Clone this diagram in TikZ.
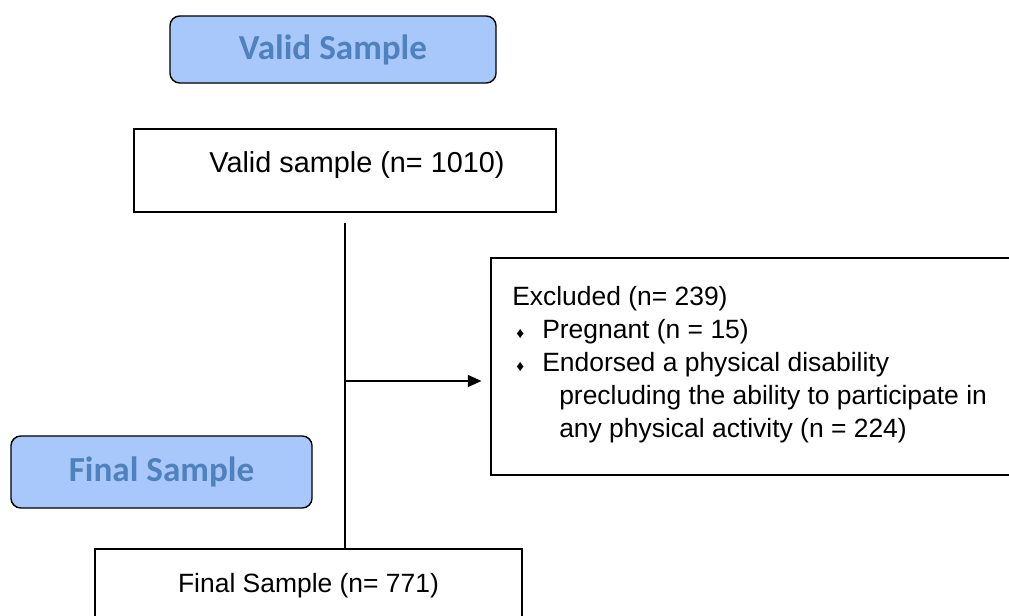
\documentclass[tikz,border=0pt]{standalone}
\usepackage{fontspec}
\setmainfont{Liberation Sans}
\newfontfamily\headfont{Carlito}
\usepackage{tikz}
\usetikzlibrary{arrows.meta,positioning}
\definecolor{headfill}{RGB}{168,199,250}
\definecolor{headtext}{RGB}{79,129,189}
\newcommand{\dbul}{\makebox[0.75cm][l]{\hspace{0.1cm}{\fontsize{11pt}{11pt}\selectfont ♦}}}
\newcommand{\dind}{\hspace*{1.175cm}}

\begin{document}
\begin{tikzpicture}[x=0.025cm, y=-0.025cm,
    headbox/.style={draw, line width=1pt, fill=headfill, rounded corners=7pt,
      text=headtext, font=\headfont\bfseries\fontsize{25pt}{28pt}\selectfont},
    samplebox/.style={draw, line width=1pt, font=\fontsize{18.8pt}{20pt}\selectfont}]
    \clip (0,0) rectangle (1009,616);
    \node[headbox, minimum width=8.15cm, minimum height=1.675cm] (vhead) at (333,49.5) {Valid Sample};
    \node[headbox, minimum width=7.525cm, minimum height=1.8cm] (fhead) at (161.5,472) {Final Sample};
    \node[samplebox, minimum width=10.55cm, minimum height=2.075cm,
      font=\fontsize{20.5pt}{22pt}\selectfont,
      text height=0.37cm, text depth=0.245cm] (valid) at (345,170.5) {\hspace*{0.6cm}Valid sample (n= 1010)};
    \node[samplebox, minimum width=10.675cm, minimum height=1.85cm] (final) at (308.5,586) {Final Sample (n= 771)};
    \node[draw, line width=1pt, minimum width=13.475cm, minimum height=5.425cm] (excl) at (760.5,366.5) {};
    \node[anchor=north west, inner sep=0, align=left,
      font=\fontsize{18.8pt}{0.825cm}\selectfont] (excltxt) at (512,286.5)
      {Excluded (n= 239)\\
       \dbul Pregnant (n = 15)\\
       \dbul Endorsed a physical disability\\
       \dind precluding the ability to participate in\\
       \dind any physical activity (n = 224)};
    \coordinate (split) at (valid.south |- 0,381);
    \draw[line width=1pt] ([yshift=-0.25cm]valid.south) -- (valid.south |- final.north);
    \draw[line width=1pt, -{Triangle[length=0.34cm, width=0.3cm]}] (split) -- ([xshift=-0.22cm]excl.west |- split);
  \end{tikzpicture}
\end{document}
